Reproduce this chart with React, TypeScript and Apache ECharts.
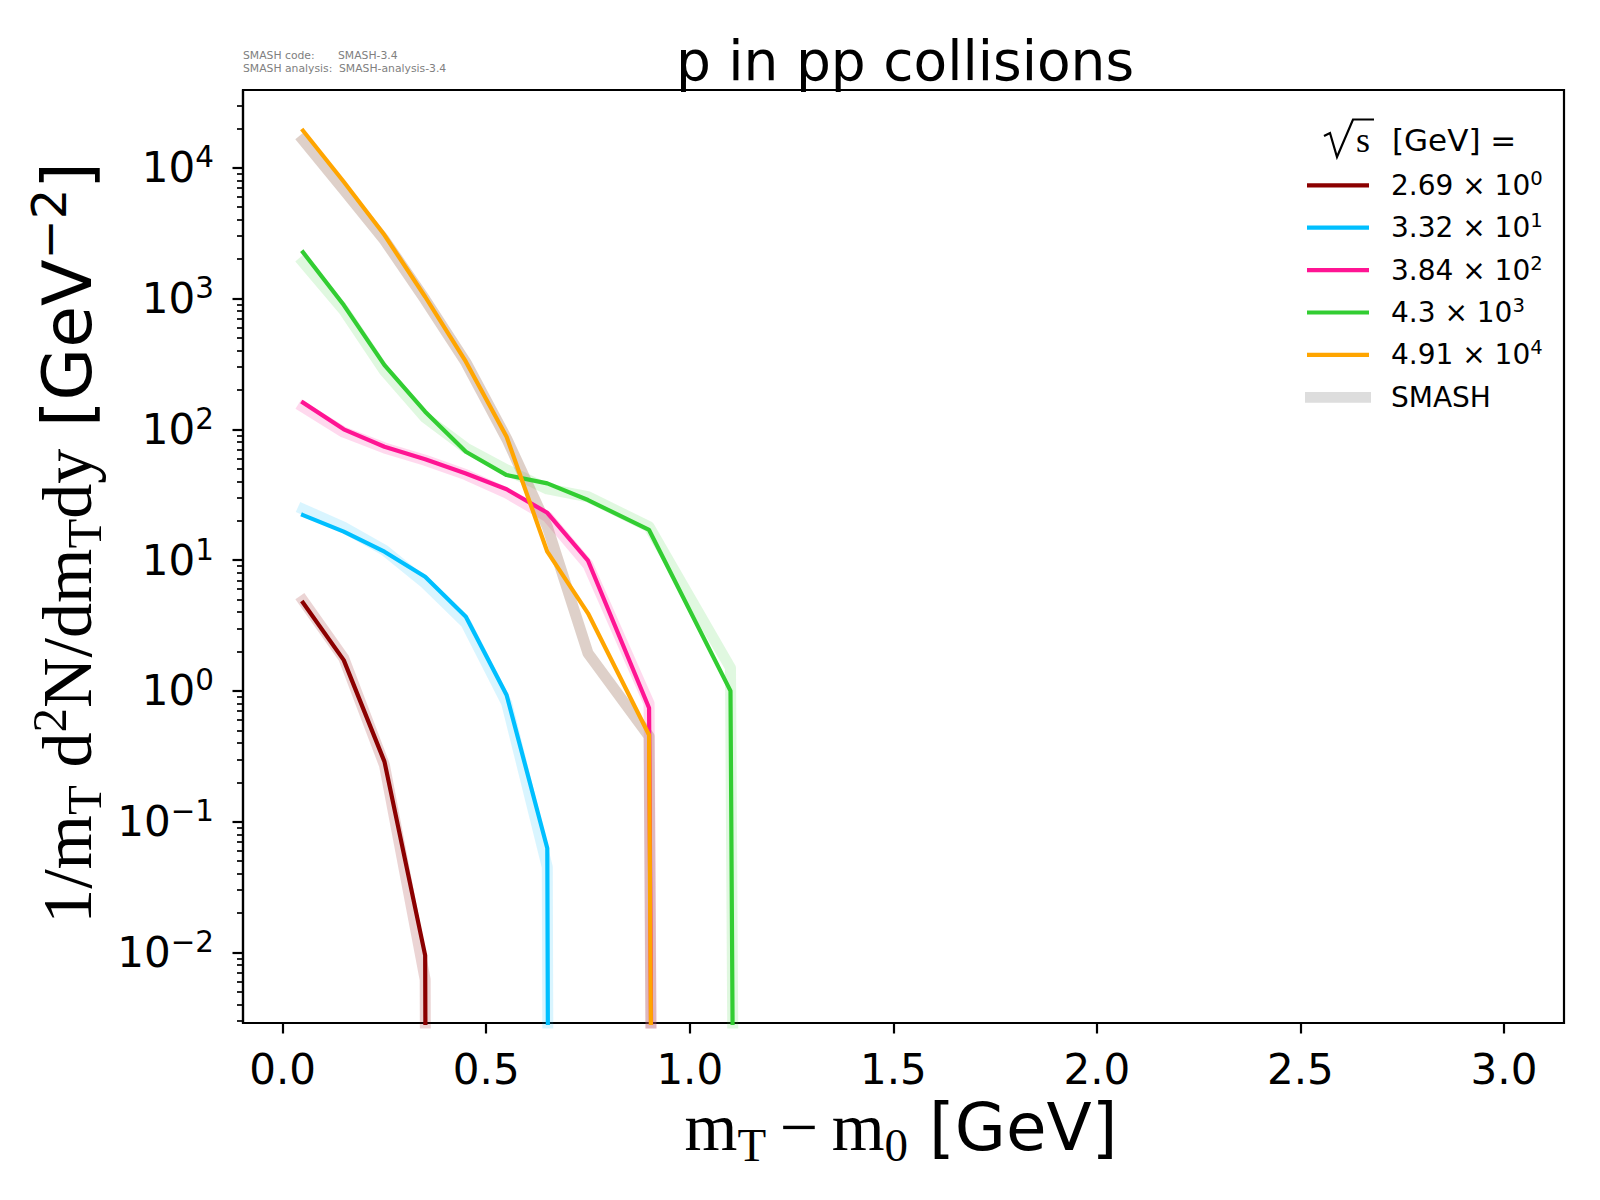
import React, { useEffect, useRef } from "react";
import * as echarts from "echarts";

// bin centres of m_T - m_0 [GeV]
const xCenters = [0.05, 0.15, 0.25, 0.35, 0.45, 0.55, 0.65, 0.75, 0.9, 1.1, 1.3];

// legend: sqrt(s) values
const sqrtSMantissa = ["2.69", "3.32", "3.84", "4.3", "4.91"];
const sqrtSExponent = ["0", "1", "2", "3", "4"];

// analysis curves (thin coloured lines)
const line269 = [4.72, 1.72, 0.288, 0.0095, 0];
const line332 = [22.1, 16.5, 11.6, 7.46, 3.69, 0.93, 0.0626, 0];
const line384 = [160, 100, 73.6, 59, 46, 34.8, 23, 9.9, 0.74, 0];
const line430 = [2256, 891, 310, 136.5, 67.4, 44.7, 38.6, 28.8, 17, 1.0, 0];
const line491 = [19200, 7820, 3055, 1032, 329, 87.8, 11.6, 3.92, 0.46, 0];

// SMASH reference curves (thick translucent bands)
const smash269 = [4.9, 1.78, 0.27, 0.0062, 0];
const smash332 = [24.5, 17.8, 11.9, 6.65, 3.3, 0.81, 0.045, 0];
const smash384 = [148, 95, 72, 58, 45, 32.6, 21.5, 9.2, 0.8, 0];
const smash430 = [1900, 815, 280, 123, 72, 49, 35, 30.5, 18, 1.5, 0];
const smash491 = [16300, 6800, 2800, 980, 325, 85, 18, 1.94, 0.45, 0];

// axis ticks
const xTicks = [0, 0.5, 1, 1.5, 2, 2.5, 3];
const yDecades = [0.001, 0.01, 0.1, 1, 10, 100, 1000, 10000];
const yMajorTicks = [0.01, 0.1, 1, 10, 100, 1000, 10000];
const minorMultipliers = [2, 3, 4, 5, 6, 7, 8, 9];

const lineColors = ["#8B0000", "#00BFFF", "#FF1493", "#32CD32", "#FFA500"];
const bandColors = [
  "rgba(139,0,0,0.17)",
  "rgba(0,191,255,0.15)",
  "rgba(255,20,147,0.16)",
  "rgba(50,205,50,0.15)",
  "rgba(160,120,100,0.35)",
];

const lines = [line269, line332, line384, line430, line491];
const bands = [smash269, smash332, smash384, smash430, smash491];

const Y_MIN = 0.00289;
const Y_MAX = 39300;
const X_MIN = -0.0975;
const X_MAX = 3.1475;
// zero counts are clipped to a tiny positive value, as on a log axis
const CLIP_FLOOR = 1e-100;

const SANS = "DejaVu Sans";
const SERIF = "Liberation Serif";

const GRID = { left: 243, top: 90, width: 1321, height: 933 };

function toPoints(vals: number[]) {
  return vals.map((v, i) => [xCenters[i], v > 0 ? v : CLIP_FLOOR]);
}

function supText(exp: string) {
  return exp.replace("-", "\u2212");
}

export default function App() {
  const ref = useRef<HTMLDivElement>(null);

  useEffect(() => {
    document.body.style.margin = "0";
    if (!ref.current) return;
    const chart = echarts.init(ref.current, undefined, { renderer: "svg" });

    const minorTicks: number[] = [];
    yDecades.forEach((d) =>
      minorMultipliers.forEach((m) => {
        const v = +(d * m).toPrecision(3);
        if (v >= Y_MIN && v <= Y_MAX) minorTicks.push(v);
      })
    );

    const series: any[] = [];
    bands.forEach((b, i) =>
      series.push({
        type: "line",
        data: toPoints(b),
        symbol: "none",
        showSymbol: false,
        clip: true,
        silent: true,
        z: 2,
        lineStyle: { width: 11, color: bandColors[i], cap: "square", join: "round" },
      })
    );
    lines.forEach((l, i) =>
      series.push({
        type: "line",
        data: toPoints(l),
        symbol: "none",
        showSymbol: false,
        clip: true,
        silent: true,
        z: 3,
        lineStyle: { width: 4.2, color: lineColors[i], cap: "square", join: "round" },
      })
    );

    // legend
    const legendX1 = 1307;
    const legendX2 = 1369;
    const legendTextX = 1391;
    const legendY0 = 185.3;
    const legendDy = 42.4;
    const legendEls: any[] = [];
    lineColors.forEach((c, i) => {
      const y = legendY0 + i * legendDy;
      legendEls.push({
        type: "line",
        shape: { x1: legendX1, y1: y, x2: legendX2, y2: y },
        style: { stroke: c, lineWidth: 4.2 },
      });
      legendEls.push({
        type: "text",
        x: legendTextX,
        y: y,
        style: {
          text: `{n|${sqrtSMantissa[i]} \u00d7 10}{s|${sqrtSExponent[i]}}`,
          align: "left",
          verticalAlign: "middle",
          rich: {
            n: { fontFamily: SANS, fontSize: 28, lineHeight: 34, verticalAlign: "middle", fill: "#000" },
            s: { fontFamily: SANS, fontSize: 19.6, lineHeight: 20, verticalAlign: "top", fill: "#000" },
          },
        },
      });
    });
    const smashY = legendY0 + 5 * legendDy;
    legendEls.push({
      type: "line",
      shape: { x1: 1305, y1: smashY, x2: 1371, y2: smashY },
      style: { stroke: "#dddddd", lineWidth: 10.7 },
    });
    legendEls.push({
      type: "text",
      x: legendTextX,
      y: smashY,
      style: { text: "SMASH", fontFamily: SANS, fontSize: 28, fill: "#000", align: "left", verticalAlign: "middle" },
    });
    // legend title: sqrt(s) [GeV] =
    legendEls.push({
      type: "polyline",
      shape: { points: [[1324, 136], [1330, 133], [1337, 157], [1353, 119.5], [1374, 119.5]] },
      style: { stroke: "#000", lineWidth: 2.2, fill: null },
    });
    legendEls.push({
      type: "text",
      x: 1356,
      y: 140,
      style: { text: "s", fontFamily: SERIF, fontSize: 36, fill: "#000", align: "left", verticalAlign: "middle" },
    });
    legendEls.push({
      type: "text",
      x: 1392,
      y: 140,
      style: { text: "[GeV] =", fontFamily: SANS, fontSize: 31, fill: "#000", align: "left", verticalAlign: "middle" },
    });

    const option: any = {
      animation: false,
      backgroundColor: "#ffffff",
      grid: {
        ...GRID,
        show: true,
        borderColor: "#000",
        borderWidth: 2.2,
        backgroundColor: "transparent",
        containLabel: false,
        outerBoundsMode: "none",
      },
      xAxis: {
        type: "value",
        min: X_MIN,
        max: X_MAX,
        splitLine: { show: false },
        axisLine: { show: true, onZero: false, lineStyle: { color: "#000", width: 2.2 } },
        axisTick: { show: true, customValues: xTicks, length: 10.5, lineStyle: { color: "#000", width: 2.2 } },
        axisLabel: {
          customValues: xTicks,
          formatter: (v: number) => v.toFixed(1),
          fontFamily: SANS,
          fontSize: 42,
          color: "#000",
          margin: 25,
        },
      },
      yAxis: [
        {
          type: "log",
          logBase: 10,
          min: Y_MIN,
          max: Y_MAX,
          position: "left",
          splitLine: { show: false },
          axisLine: { show: true, onZero: false, lineStyle: { color: "#000", width: 2.2 } },
          axisTick: { show: true, customValues: yMajorTicks, length: 10.5, lineStyle: { color: "#000", width: 2.2 } },
          axisLabel: {
            customValues: yMajorTicks,
            margin: 29,
            formatter: (v: number) => {
              const e = Math.round(Math.log10(v));
              return `{b|10}{s|${supText(String(e))}}`;
            },
            rich: {
              b: { fontFamily: SANS, fontSize: 42, lineHeight: 50, verticalAlign: "middle", color: "#000" },
              s: { fontFamily: SANS, fontSize: 29.4, lineHeight: 29, verticalAlign: "top", color: "#000" },
            },
          },
        },
        {
          type: "log",
          logBase: 10,
          min: Y_MIN,
          max: Y_MAX,
          position: "left",
          splitLine: { show: false },
          axisLine: { show: false, onZero: false },
          axisTick: { show: true, customValues: minorTicks, length: 6, lineStyle: { color: "#000", width: 1.7 } },
          axisLabel: { show: false },
        },
      ],
      series,
      graphic: [
        {
          type: "text",
          x: 905,
          y: 61,
          style: { text: "p in pp collisions", fontFamily: SANS, fontSize: 55, fill: "#000", align: "center", verticalAlign: "middle" },
        },
        {
          type: "text",
          x: 243,
          y: 55,
          style: { text: "SMASH code:", fontFamily: SANS, fontSize: 10.8, fill: "#808080", align: "left", verticalAlign: "middle" },
        },
        {
          type: "text",
          x: 338,
          y: 55,
          style: { text: "SMASH-3.4", fontFamily: SANS, fontSize: 10.8, fill: "#808080", align: "left", verticalAlign: "middle" },
        },
        {
          type: "text",
          x: 243,
          y: 68.3,
          style: { text: "SMASH analysis:", fontFamily: SANS, fontSize: 10.8, fill: "#808080", align: "left", verticalAlign: "middle" },
        },
        {
          type: "text",
          x: 339,
          y: 68.3,
          style: { text: "SMASH-analysis-3.4", fontFamily: SANS, fontSize: 10.8, fill: "#808080", align: "left", verticalAlign: "middle" },
        },
        // x axis title
        {
          type: "text",
          x: 901,
          y: 1127,
          style: {
            text: "{m|m}{sub|T}{m|\u2009\u2212\u2009m}{sub|0}{g| [GeV]}",
            align: "center",
            verticalAlign: "middle",
            rich: {
              m: { fontFamily: SERIF, fontSize: 68, lineHeight: 82, verticalAlign: "middle", fill: "#000" },
              sub: { fontFamily: SERIF, fontSize: 47, lineHeight: 47, verticalAlign: "bottom", fill: "#000" },
              g: { fontFamily: SANS, fontSize: 66, lineHeight: 82, verticalAlign: "middle", fill: "#000" },
            },
          },
        },
        // y axis title
        {
          type: "text",
          x: 67,
          y: 543,
          rotation: Math.PI / 2,
          style: {
            text: "{m|1/m}{sub|T}{m| d}{sup|2}{m|N/dm}{sub|T}{m|dy}{g| [GeV}{gs|\u22122}{g|]}",
            align: "center",
            verticalAlign: "middle",
            rich: {
              m: { fontFamily: SERIF, fontSize: 70, lineHeight: 84, verticalAlign: "middle", fill: "#000" },
              sub: { fontFamily: SERIF, fontSize: 49, lineHeight: 49, verticalAlign: "bottom", fill: "#000" },
              sup: { fontFamily: SERIF, fontSize: 49, lineHeight: 49, verticalAlign: "top", fill: "#000" },
              g: { fontFamily: SANS, fontSize: 68, lineHeight: 84, verticalAlign: "middle", fill: "#000" },
              gs: { fontFamily: SANS, fontSize: 48, lineHeight: 49, verticalAlign: "top", fill: "#000" },
            },
          },
        },
        ...legendEls,
      ],
    };

    chart.setOption(option);
    return () => chart.dispose();
  }, []);

  return <div ref={ref} style={{ width: 1600, height: 1200 }} />;
}
